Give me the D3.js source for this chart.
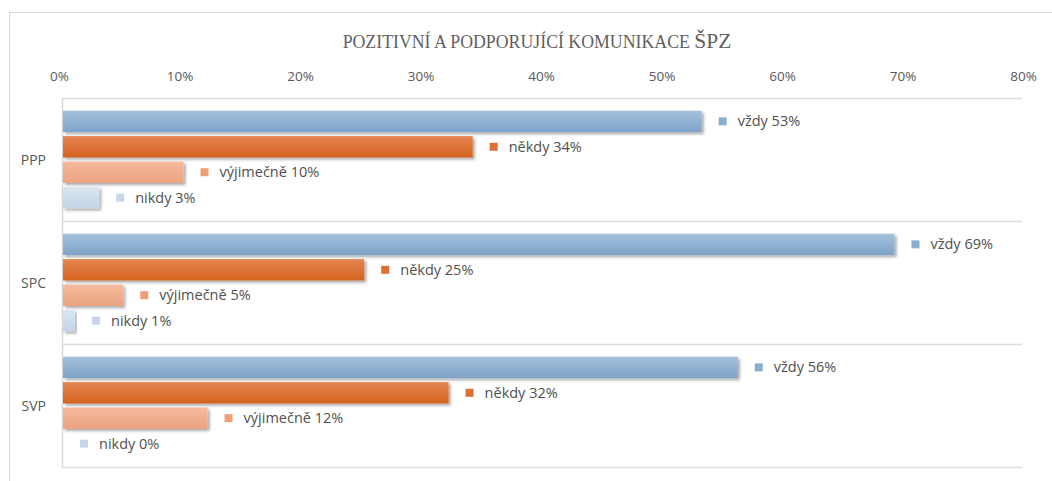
<!DOCTYPE html>
<html>
<head>
<meta charset="utf-8">
<script src="https://cdn.jsdelivr.net/npm/d3@7"></script>
<style>
  body { margin: 0; background: #fff; }
  svg { display: block; }
</style>
</head>
<body>
<svg id="chart"></svg>
<script>
// Data
const categories = ["PPP", "SPC", "SVP"];
const seriesNames = ["vždy", "někdy", "výjimečně", "nikdy"];
const vzdy = [53, 69, 56];
const nekdy = [34, 25, 32];
const vyjimecne = [10, 5, 12];
const nikdy = [3, 1, 0];
const tickValues = [0, 10, 20, 30, 40, 50, 60, 70, 80];

const seriesValues = [vzdy, nekdy, vyjimecne, nikdy];
// barvy sérií (horní, dolní odstín gradientu)
const colors = [
    { top: "#a3c1dc", bottom: "#7ea3c8", mark: "#8aaed0" },
    { top: "#e58652", bottom: "#d4621f", mark: "#dd6f32" },
    { top: "#f4bb9f", bottom: "#eba27e", mark: "#ef9f78" },
    { top: "#dbe6f1", bottom: "#c3d4e7", mark: "#c6d6e8" }
];

const width = 1052, height = 481;
const svg = d3.select("#chart").attr("width", width).attr("height", height);

// Rámeček grafu
svg.append("rect")
    .attr("x", 9.5).attr("y", 12.5)
    .attr("width", 1100).attr("height", 500)
    .attr("fill", "none").attr("stroke", "#d9d9d9");

// Titulek (kapitálky)
const title = svg.append("text")
    .attr("x", 537).attr("y", 48)
    .attr("text-anchor", "middle")
    .attr("font-family", "'Liberation Serif', 'DejaVu Serif', serif")
    .attr("fill", "#5f5f5f");
title.append("tspan").attr("font-size", 17.8).text("POZITIVNÍ A PODPORUJÍCÍ KOMUNIKACE ");
title.append("tspan").attr("font-size", 21.5).text("ŠPZ");

const plot = { left: 62, right: 1026, top: 98, bottom: 467 };

const x = d3.scaleLinear().domain([0, 80]).range([plot.left, plot.right]);
const y0 = d3.scaleBand().domain(categories).range([plot.top, plot.bottom]);
const y1 = d3.scaleBand().domain(seriesNames).range([0, y0.bandwidth()])
    .paddingInner(0.16).paddingOuter(0.5);

// Definice gradientů a stínu
const defs = svg.append("defs");
colors.forEach((c, i) => {
    const g = defs.append("linearGradient")
        .attr("id", "grad" + i)
        .attr("x1", 0).attr("y1", 0).attr("x2", 0).attr("y2", 1);
    g.append("stop").attr("offset", "0%").attr("stop-color", c.top);
    g.append("stop").attr("offset", "100%").attr("stop-color", c.bottom);
});
const shadow = defs.append("filter").attr("id", "shadow")
    .attr("x", "-5%").attr("y", "-20%").attr("width", "120%").attr("height", "160%");
shadow.append("feDropShadow")
    .attr("dx", 2).attr("dy", 2).attr("stdDeviation", 1.5)
    .attr("flood-color", "#000").attr("flood-opacity", 0.35);

// Osa X nahoře
const xAxis = d3.axisTop(x)
    .tickValues(tickValues)
    .tickFormat(d => d + "%")
    .tickSize(0)
    .tickPadding(0);
const gx = svg.append("g")
    .attr("transform", `translate(-3, 81)`)
    .call(xAxis);
gx.select(".domain").remove();
gx.selectAll("text")
    .attr("font-family", "'Open Sans', 'Liberation Sans', sans-serif")
    .attr("font-size", 13.5)
    .attr("fill", "#595959");

// Oddělovací čáry kategorií
const boundaries = [plot.top].concat(categories.map(c => y0(c) + y0.bandwidth()));
svg.append("g").selectAll("line")
    .data(boundaries)
    .join("line")
    .attr("x1", plot.left).attr("x2", plot.right - 4)
    .attr("y1", d => Math.round(d) + 0.5).attr("y2", d => Math.round(d) + 0.5)
    .attr("stroke", "#dcdcdc").attr("stroke-width", 1.5);

// Svislá osa
svg.append("line")
    .attr("x1", plot.left + 0.5).attr("x2", plot.left + 0.5)
    .attr("y1", plot.top).attr("y2", plot.bottom)
    .attr("stroke", "#d9d9d9").attr("stroke-width", 1.5);

// Popisky kategorií
svg.append("g").selectAll("text")
    .data(categories)
    .join("text")
    .attr("x", 46)
    .attr("y", d => y0(d) + y0.bandwidth() / 2 + 5)
    .attr("text-anchor", "end")
    .attr("font-family", "'Open Sans', 'Liberation Sans', sans-serif")
    .attr("font-size", 14)
    .attr("fill", "#595959")
    .text(d => d);

// Data pro pruhy
const rows = [];
categories.forEach((cat, ci) => {
    seriesNames.forEach((s, si) => {
        rows.push({ cat, series: s, si, value: seriesValues[si][ci] });
    });
});

const barGroup = svg.append("g");
barGroup.selectAll("rect")
    .data(rows.filter(d => d.value > 0))
    .join("rect")
    .attr("x", x(0) + 1)
    .attr("y", d => y0(d.cat) + y1(d.series))
    .attr("width", d => x(d.value) - x(0))
    .attr("height", y1.bandwidth())
    .attr("fill", d => `url(#grad${d.si})`)
    .attr("filter", "url(#shadow)");

// Popisky hodnot s čtverečkem
const labels = svg.append("g").selectAll("g")
    .data(rows)
    .join("g")
    .attr("transform", d => `translate(${x(d.value) + 18}, ${y0(d.cat) + y1(d.series) + y1.bandwidth() / 2})`);
labels.append("rect")
    .attr("x", 0).attr("y", -4)
    .attr("width", 8).attr("height", 8)
    .attr("fill", d => colors[d.si].mark);
labels.append("text")
    .attr("x", 19).attr("y", 5)
    .attr("font-family", "'Open Sans', 'Liberation Sans', sans-serif")
    .attr("font-size", 14.5)
    .attr("fill", "#505050")
    .text(d => `${d.series} ${d.value}%`);
</script>
</body>
</html>
